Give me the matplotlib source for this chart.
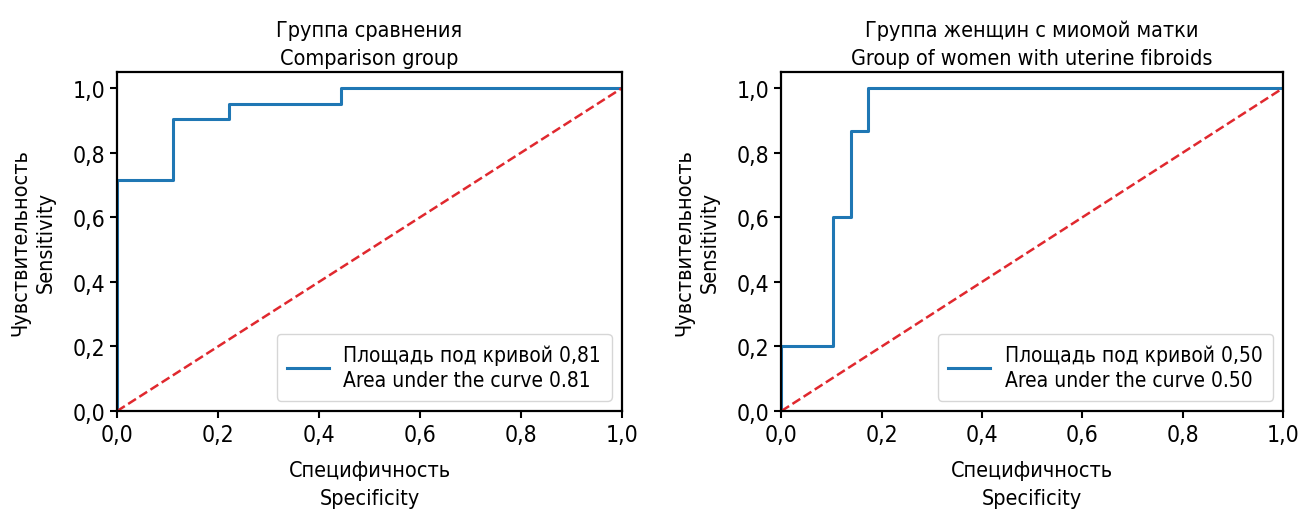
import matplotlib
matplotlib.use("Agg")
import matplotlib.pyplot as plt
from matplotlib.ticker import FuncFormatter

# ROC data (specificity axis as drawn, sensitivity)
comp_x = [0.0, 0.0, 0.111, 0.111, 0.222, 0.222, 0.444, 0.444, 1.0]
comp_y = [0.0, 0.714, 0.714, 0.905, 0.905, 0.952, 0.952, 1.0, 1.0]
fib_x = [0.0, 0.0, 0.103, 0.103, 0.138, 0.138, 0.172, 0.172, 1.0]
fib_y = [0.0, 0.2, 0.2, 0.6, 0.6, 0.867, 0.867, 1.0, 1.0]

titles = ["Группа сравнения\nComparison group",
          "Группа женщин с миомой матки\nGroup of women with uterine fibroids"]
labels = ["Площадь под кривой 0,81\nArea under the curve 0.81",
          "Площадь под кривой 0,50\nArea under the curve 0.50"]
ticks = [0.0, 0.2, 0.4, 0.6, 0.8, 1.0]

plt.rcParams['font.family'] = ['DejaVu Sans']
plt.rcParams['font.stretch'] = 'condensed'
plt.rcParams['font.size'] = 15

fig = plt.figure(figsize=(13, 5.1), dpi=100)
axes = [fig.add_axes([0.090, 0.192, 0.3885, 0.665]),
        fig.add_axes([0.601, 0.192, 0.386, 0.665])]

comma = FuncFormatter(lambda v, p: f"{v:.1f}".replace(".", ","))

for ax, xs, ys, title, lab in zip(axes, [comp_x, fib_x], [comp_y, fib_y], titles, labels):
    ax.plot(xs, ys, color="#1f77b4", lw=2.2, label=lab)
    ax.plot([0, 1], [0, 1], color="#e0282e", lw=1.8, ls="--")
    ax.set_xlim(0, 1)
    ax.set_ylim(0, 1.05)
    ax.set_xticks(ticks)
    ax.set_yticks(ticks)
    ax.xaxis.set_major_formatter(comma)
    ax.yaxis.set_major_formatter(comma)
    ax.tick_params(labelsize=16.5, width=1.5, length=5)
    for s in ax.spines.values():
        s.set_linewidth(1.6)
    ax.set_title(title, fontsize=15.5, linespacing=1.5, pad=6)
    ax.set_xlabel("Специфичность\nSpecificity", fontsize=15.5, linespacing=1.5,
                  labelpad=10)
    ax.set_ylabel("Чувствительность\nSensitivity", fontsize=15.5, linespacing=1.35,
                  labelpad=12)
    leg = ax.legend(loc="lower right", fontsize=15, handlelength=2.0,
                    borderpad=0.5, handletextpad=0.7)
    for t in leg.get_texts():
        t.set_linespacing(1.35)

fig.savefig("out.png", dpi=100)
